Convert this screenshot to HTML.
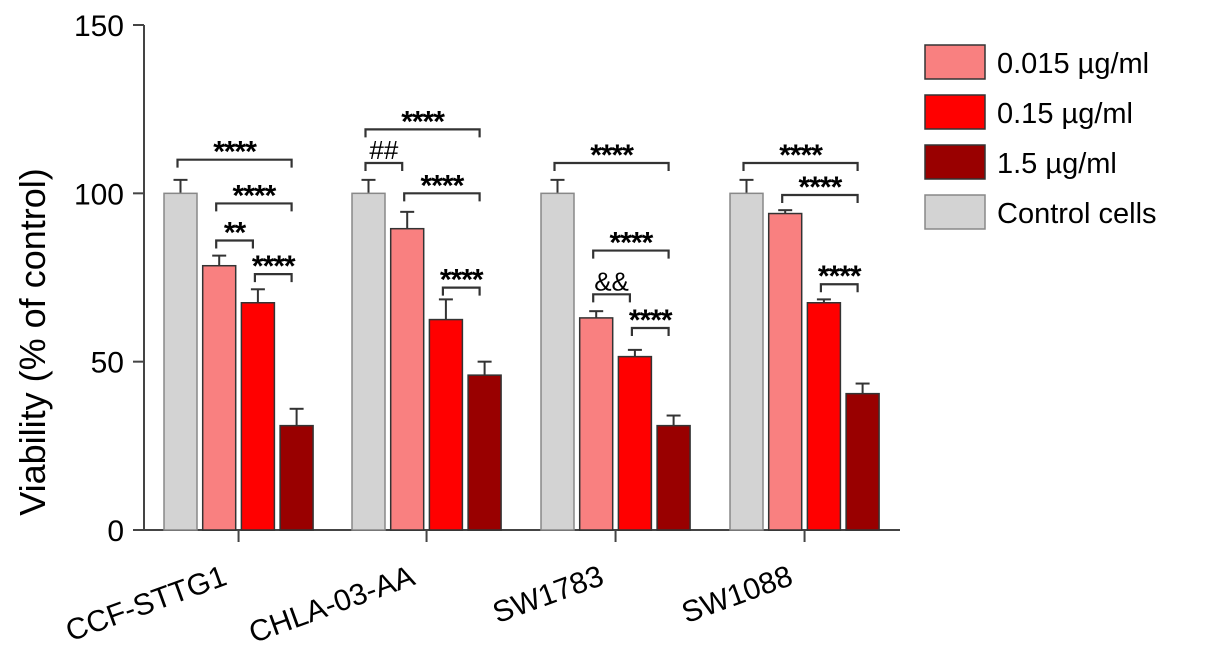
<!DOCTYPE html>
<html><head><meta charset="utf-8"><style>
body{margin:0;background:#fff;}
svg text{font-family:"Liberation Sans",Arial,sans-serif;fill:#000;}
</style></head><body>
<svg width="1205" height="659" id="c"></svg>
<script>
const groups=["CCF-STTG1","CHLA-03-AA","SW1783","SW1088"];
const seriesNames=["Control cells","0.015 µg/ml","0.15 µg/ml","1.5 µg/ml"];
const control=[100,100,100,100];
const low=[78.5,89.5,63,94];
const mid=[67.5,62.5,51.5,67.5];
const high=[31,46,31,40.5];
const errControl=[4,4,4,4];
const errLow=[3,5,2,1];
const errMid=[4,6,2,1];
const errHigh=[5,4,3,3];
const yTicks=[0,50,100,150];
// brackets: group, bar i, bar j, level, label
const brackets=[
[0,0,3,110,"****"],[0,1,3,97,"****"],[0,1,2,86,"**"],[0,2,3,76,"****"],
[1,0,3,119,"****"],[1,0,1,109,"##"],[1,1,3,100,"****"],[1,2,3,72,"****"],
[2,0,3,109,"****"],[2,1,3,83,"****"],[2,1,2,70,"&&"],[2,2,3,60,"****"],
[3,0,3,109,"****"],[3,1,3,99.5,"****"],[3,2,3,73,"****"]];
const colors=["#d3d3d3","#f98080","#ff0000","#990000"];
const svg=document.getElementById('c');
const NS="http://www.w3.org/2000/svg";
function el(t,a,p){const e=document.createElementNS(NS,t);for(const k in a)e.setAttribute(k,a[k]);(p||svg).appendChild(e);return e;}
const y0=530,y1=25,ymax=150;
const y=v=>y0-(y0-y1)*v/ymax;
const gx=[164,352,541,730],bw=33,step=38.7;
const bx=(g,i)=>gx[g]+i*step;
let ax=el('line',{x1:144,y1:y1,x2:144,y2:y0,stroke:'#444','stroke-width':2});

let xa=el('line',{x1:133,y1:y0,x2:900,y2:y0,stroke:'#444','stroke-width':2});

yTicks.forEach(t=>{
 el('line',{x1:133,x2:144,y1:y(t),y2:y(t),stroke:'#444','stroke-width':2});
 const tx=el('text',{x:124,y:y(t)+11,'text-anchor':'end','font-size':30});tx.textContent=t;
 
});
const yt=el('text',{transform:'translate(45,342) rotate(-90)','text-anchor':'middle','font-size':36});
yt.textContent='Viability (% of control)';

const vals=[control,low,mid,high],errs=[errControl,errLow,errMid,errHigh];
groups.forEach((g,gi)=>{
 const gc=(bx(gi,0)+bx(gi,3)+bw)/2;
 el('line',{x1:gc,x2:gc,y1:y0,y2:y0+12,stroke:'#444','stroke-width':2});
 vals.forEach((arr,si)=>{
  const x=bx(gi,si),v=arr[gi],e=errs[si][gi],cx=x+bw/2;
  el('line',{x1:cx,x2:cx,y1:y(v),y2:y(v+e),stroke:'#333','stroke-width':2});
  el('line',{x1:cx-7,x2:cx+7,y1:y(v+e),y2:y(v+e),stroke:'#333','stroke-width':2});
  const r=el('rect',{x:x,y:y(v),width:bw,height:y0-y(v),fill:colors[si],stroke:si==0?'#888':'#333','stroke-width':1.5});
  
 });
 const ex=gc-10,ey=584;
 const t=el('text',{x:ex,y:ey,'text-anchor':'end','font-size':30,transform:`rotate(-20 ${ex} ${ey})`});
 t.textContent=g;
});
brackets.forEach(b=>{
 const [g,i,j,lv,lab]=b;
 const xa=bx(g,i)+bw/2-3,xb=bx(g,j)+bw/2-5,yy=y(lv);
 const p=el('path',{d:`M${xa},${yy+8}V${yy}H${xb}V${yy+8}`,fill:'none',stroke:'#333','stroke-width':2.2});
 
 const star=lab.startsWith('*');
 const t=el('text',{x:(xa+xb)/2,y:star?yy+2:yy-4,'text-anchor':'middle','font-size':star?30:26,'font-weight':star?'bold':'normal','letter-spacing':star?'-1':'0'});
 t.textContent=lab;
});
const legOrder=[1,2,3,0],legY=[45,95,145,195];
legOrder.forEach((si,k)=>{
 const r=el('rect',{x:925,y:legY[k],width:60,height:34,fill:colors[si],stroke:si==0?'#888':'#333','stroke-width':1.5});
 
 const t=el('text',{x:997,y:legY[k]+28,'font-size':29});t.textContent=seriesNames[si];
 
});
</script>
</body></html>
